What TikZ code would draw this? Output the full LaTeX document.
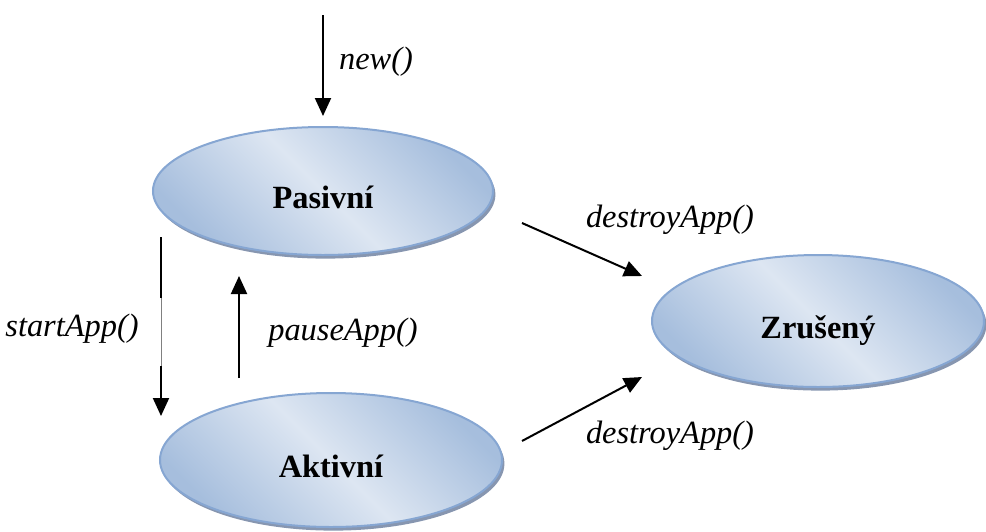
\documentclass[tikz,border=0pt]{standalone}
\usepackage{fontspec}
\setmainfont{Liberation Serif}
\usetikzlibrary{shapes.geometric,shadows,arrows.meta}
\definecolor{statein}{HTML}{DDE6F2}
\definecolor{stateout}{HTML}{A6BEDD}
\definecolor{stateline}{HTML}{86A6D2}
\definecolor{stateshadow}{HTML}{8796B0}
\begin{document}
\begin{tikzpicture}[x=0.5pt, y=-0.5pt, line width=1pt,
        >={Triangle[length=9pt,width=8pt]},
        state/.style={ellipse, draw=stateline, line width=1pt,
            top color=stateout, bottom color=stateout, middle color=statein, shading angle=-45,
            minimum width=170pt, minimum height=64pt, text height=17.5pt, text depth=0.5pt,
            font=\fontsize{16.2}{19}\selectfont\bfseries,
            drop shadow={shadow xshift=1.2pt, shadow yshift=-1.8pt, fill=stateshadow, opacity=1}},
        call/.style={font=\fontsize{16.2}{19}\selectfont\itshape}]
        \useasboundingbox (0,0) rectangle (986,531);
        \node[state] (pasivni) at (323,191) {Pasivní};
        \node[state, minimum width=171pt, minimum height=67pt] (aktivni) at (331,460) {Aktivní};
        \node[state, minimum width=166pt, minimum height=66pt] (zruseny) at (818,321) {Zrušený};
        \coordinate (new-top) at (323,15);
        \coordinate (start-top) at (161,237);
        \coordinate (start-end) at (161,416);
        \coordinate (pause-low) at (239,378);
        \coordinate (pause-end) at (239,276);
        \coordinate (destroy-p) at (522,223);
        \coordinate (destroy-pz) at (642,276);
        \coordinate (destroy-a) at (522,441);
        \coordinate (destroy-az) at (642,377);
        \draw[->, shorten >=5pt] (new-top) -- (pasivni);
        \draw[->] (start-top) -- (start-end);
        \draw[white, line width=1.2pt] (161,298) -- (161,366);
        \draw[gray, line width=0.3pt] (161,298) -- (161,366);
        \draw[->] (pause-low) -- (pause-end);
        \draw[->] (destroy-p) -- (destroy-pz);
        \draw[->] (destroy-a) -- (destroy-az);
        \node[call] (new) at (376,62) {new()};
        \node[call] (startapp) at (72,329) {startApp()};
        \node[call] (pauseapp) at (343,333) {pauseApp()};
        \node[call] (destroy-1) at (670,220) {destroyApp()};
        \node[call] (destroy-2) at (670,436) {destroyApp()};
\end{tikzpicture}
\end{document}
